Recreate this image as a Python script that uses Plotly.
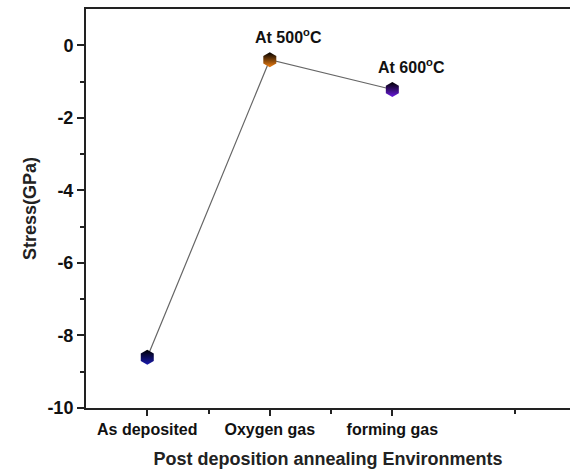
import plotly.graph_objects as go

categories = ["As deposited", "Oxygen gas", "forming gas"]
stress = [-8.6, -0.4, -1.22]
labels = ["", "At 500<sup>o</sup>C", "At 600<sup>o</sup>C"]
colors = ["#1a1ab0", "#f07f10", "#6a1ae0"]
yticks = [0, -2, -4, -6, -8, -10]

xpos = list(range(len(categories)))
fig = go.Figure()
fig.add_trace(go.Scatter(
    x=xpos, y=stress, mode="lines",
    line=dict(color="#666666", width=1.2), showlegend=False, hoverinfo="skip"))
for i in xpos:
    fig.add_trace(go.Scatter(
        x=[i], y=[stress[i]], mode="markers",
        marker=dict(symbol="hexagon", size=15, color="#000000",
                    gradient=dict(type="vertical", color=colors[i]),
                    line=dict(width=0)),
        showlegend=False))
    if labels[i]:
        fig.add_annotation(x=i, y=stress[i], text="<b>" + labels[i] + "</b>",
                           showarrow=False, xshift=19, yshift=24,
                           font=dict(family="Liberation Sans", size=16, color="#111"))

xfont = dict(family="Liberation Sans", size=16, color="#111")
yfont = dict(family="Liberation Sans", size=18, color="#111")
fig.update_layout(
    width=570, height=474,
    margin=dict(l=86, r=0, t=9, b=66),
    plot_bgcolor="white", paper_bgcolor="white",
    xaxis=dict(
        range=[-0.5, 3.45], tickmode="array",
        tickvals=xpos, ticktext=["<b>%s</b>" % c for c in categories],
        ticks="outside", ticklen=6, tickwidth=1.5, tickcolor="#222",
        showline=True, linecolor="#222", linewidth=2, mirror=True,
        showgrid=False, zeroline=False, tickfont=xfont,
        minor=dict(tickmode="array", tickvals=[0.5, 1.5, 3], ticks="outside",
                   ticklen=4, tickcolor="#222"),
        title=dict(text="<b>Post deposition annealing Environments</b>",
                   font=dict(family="Liberation Sans", size=18, color="#222"),
                   standoff=15),
    ),
    yaxis=dict(
        range=[-10, 1], tickmode="array", tickvals=yticks,
        ticktext=["<b>%d</b>" % v for v in yticks],
        ticks="outside", ticklen=7, tickwidth=1.5, tickcolor="#222",
        showline=True, linecolor="#222", linewidth=2,
        showgrid=False, zeroline=False, tickfont=yfont,
        minor=dict(tickmode="array", tickvals=[-1, -3, -5, -7, -9], ticks="outside",
                   ticklen=4, tickcolor="#222"),
        title=dict(text="<b>Stress(GPa)</b>",
                   font=dict(family="Liberation Sans", size=18, color="#222"),
                   standoff=6),
    ),
)
fig.write_html("out.html")
